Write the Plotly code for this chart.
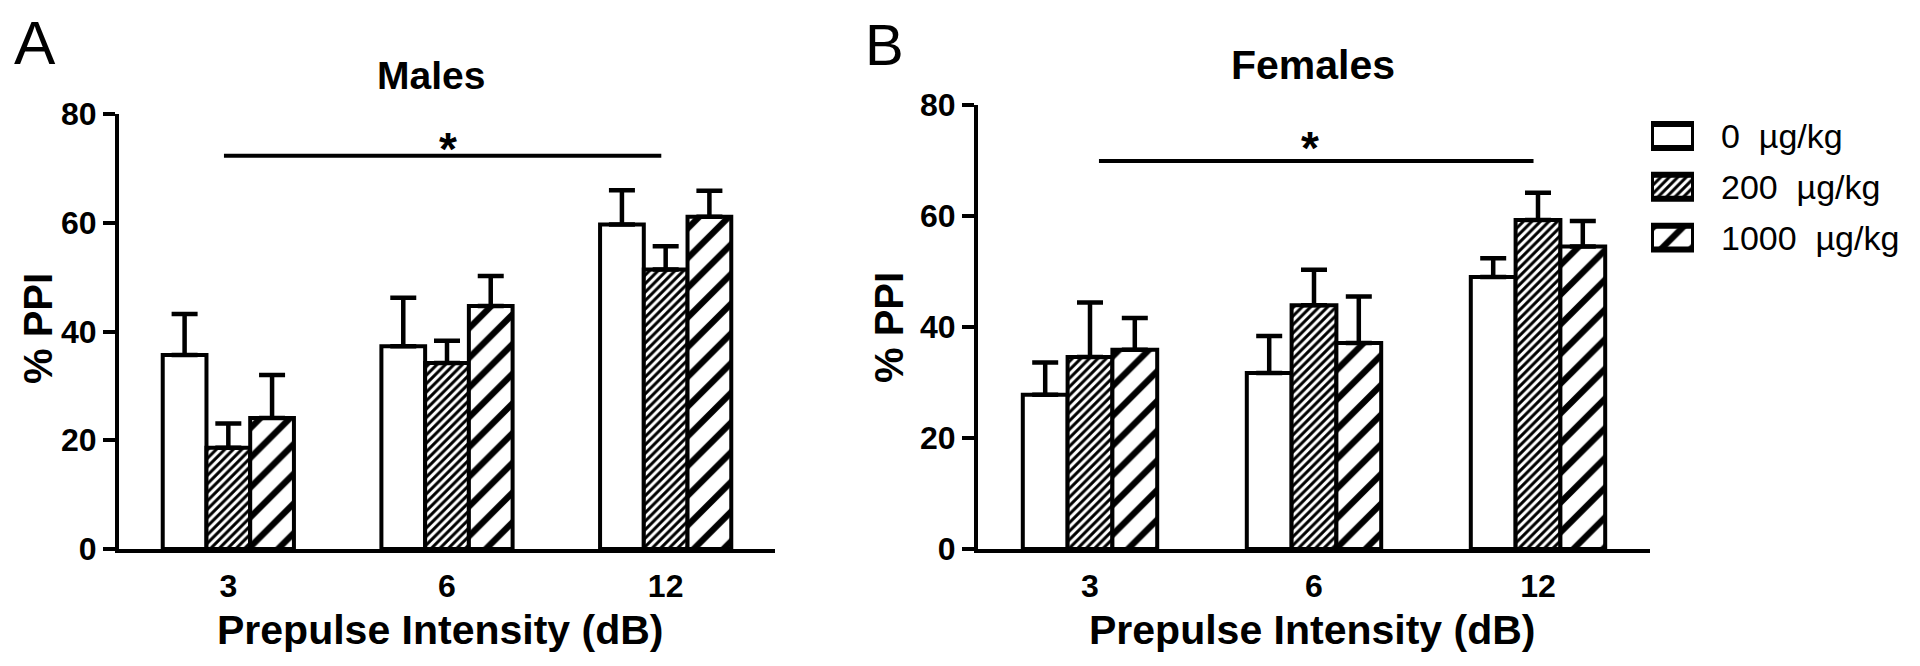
import plotly.graph_objects as go

# --- data ------------------------------------------------------------------
intensities = ["3", "6", "12"]
doses = ["0\u00a0\u00a0µg/kg", "200\u00a0\u00a0µg/kg", "1000\u00a0\u00a0µg/kg"]

males_0 = [35.7, 37.3, 59.7]
males_200 = [18.6, 34.2, 51.4]
males_1000 = [24.1, 44.7, 61.1]
males_0_sem = [7.5, 8.9, 6.3]
males_200_sem = [4.5, 4.1, 4.3]
males_1000_sem = [7.9, 5.5, 4.8]

females_0 = [27.8, 31.7, 49.0]
females_200 = [34.6, 43.9, 59.3]
females_1000 = [35.9, 37.1, 54.5]
females_0_sem = [5.8, 6.7, 3.4]
females_200_sem = [9.8, 6.4, 4.9]
females_1000_sem = [5.7, 8.4, 4.6]

y_ticks = [0, 20, 40, 60, 80]

# significance bar: (from category index, to category index, level)
males_sig = (-0.02, 1.98, 72.3)
females_sig = (0.04, 1.98, 69.9)

W, H = 1920, 666
OFFSET = 8  # page body margin shifts the figure by this much
FONT = "Liberation Sans"

# one fill style per dose: (pattern shape, tile size, solidity)
dose_styles = [("", 8, 0.3), ("/", 6, 0.5), ("/", 21, 0.3)]


def px(x: float) -> float:
    return (x - OFFSET) / W


def py(y: float) -> float:
    return 1 - (y - OFFSET) / H


def bar_trace(values, sem, style, xa, ya):
    shape, size, solidity = style
    return go.Bar(
        x=intensities,
        y=values,
        xaxis=xa,
        yaxis=ya,
        showlegend=False,
        marker=dict(
            color="white",
            line=dict(color="black", width=4),
            pattern=dict(
                shape=shape,
                size=size,
                solidity=solidity,
                fgcolor="black",
                bgcolor="white",
                fgopacity=1,
                fillmode="replace",
            ),
        ),
        error_y=dict(
            type="data",
            symmetric=False,
            array=sem,
            arrayminus=[0] * len(sem),
            color="black",
            thickness=4.5,
            width=13,
        ),
    )


fig = go.Figure()

males = [(males_0, males_0_sem), (males_200, males_200_sem), (males_1000, males_1000_sem)]
females = [
    (females_0, females_0_sem),
    (females_200, females_200_sem),
    (females_1000, females_1000_sem),
]
for (vals, sem), st in zip(males, dose_styles):
    fig.add_trace(bar_trace(vals, sem, st, "x", "y"))
for (vals, sem), st in zip(females, dose_styles):
    fig.add_trace(bar_trace(vals, sem, st, "x2", "y2"))

# legend drawn as a tiny bar chart so the swatches keep the reference size
fig.add_trace(
    go.Bar(
        x=[1] * len(doses),
        y=doses,
        orientation="h",
        xaxis="x3",
        yaxis="y3",
        width=0.47,
        showlegend=False,
        marker=dict(
            color="white",
            line=dict(color="black", width=6),
            pattern=dict(
                shape=[s[0] for s in dose_styles],
                size=[s[1] for s in dose_styles],
                solidity=[s[2] for s in dose_styles],
                fgcolor="black",
                bgcolor="white",
                fgopacity=1,
                fillmode="replace",
            ),
        ),
    )
)

x_common = dict(
    type="category",
    range=[-0.5, 2.5],
    showline=True,
    linecolor="black",
    linewidth=4,
    ticks="",
    showgrid=False,
    zeroline=False,
    automargin=False,
    tickfont=dict(family=FONT, size=32, color="black", weight="bold"),
    ticklabelstandoff=6,
)
y_common = dict(
    range=[0, 80],
    tickvals=y_ticks,
    showline=True,
    linecolor="black",
    linewidth=4,
    ticks="outside",
    ticklen=12,
    tickwidth=4,
    tickcolor="black",
    showgrid=False,
    zeroline=False,
    automargin=False,
    tickfont=dict(family=FONT, size=32, color="black", weight="bold"),
)

fig.update_layout(
    width=W,
    height=H,
    margin=dict(l=0, r=0, t=0, b=0, autoexpand=False),
    paper_bgcolor="white",
    plot_bgcolor="white",
    barmode="group",
    bargap=0.4,
    bargroupgap=0,
    xaxis=dict(x_common, domain=[px(119), px(775)], anchor="y"),
    yaxis=dict(y_common, domain=[py(549), py(114)], anchor="x"),
    xaxis2=dict(x_common, domain=[px(978), px(1650)], anchor="y2"),
    yaxis2=dict(y_common, domain=[py(549), py(105)], anchor="x2"),
    xaxis3=dict(
        domain=[px(1651), px(1694)],
        range=[0, 1],
        anchor="y3",
        visible=False,
        fixedrange=True,
        automargin=False,
    ),
    yaxis3=dict(
        domain=[py(263), py(110.6)],
        anchor="x3",
        side="right",
        autorange="reversed",
        showline=False,
        showgrid=False,
        zeroline=False,
        automargin=False,
        ticks="",
        ticklabelstandoff=26,
        tickfont=dict(family=FONT, size=34, color="black"),
    ),
)

# significance bars
for (x0, x1, level), xa, ya in [(males_sig, "x", "y"), (females_sig, "x2", "y2")]:
    fig.add_shape(
        type="line",
        xref=xa,
        yref=ya,
        x0=x0,
        x1=x1,
        y0=level,
        y1=level,
        line=dict(color="black", width=4),
    )


def label(text, x, y, size, bold=True, angle=0):
    fig.add_annotation(
        text=text,
        x=px(x),
        y=py(y),
        xref="paper",
        yref="paper",
        xanchor="center",
        yanchor="middle",
        showarrow=False,
        textangle=angle,
        font=dict(family=FONT, size=size, color="black", weight="bold" if bold else "normal"),
    )


label("A", 35, 43, 62, bold=False)
label("B", 884, 44, 58, bold=False)
label("Males", 431, 75, 39)
label("Females", 1313, 65, 41)
label("*", 448, 149, 46)
label("*", 1310, 148, 46)
label("Prepulse Intensity (dB)", 440, 630, 41)
label("Prepulse Intensity (dB)", 1312, 630, 41)
label("% PPI", 38, 329, 40, angle=-90)
label("% PPI", 889, 328, 40, angle=-90)

fig.write_html("out.html")
